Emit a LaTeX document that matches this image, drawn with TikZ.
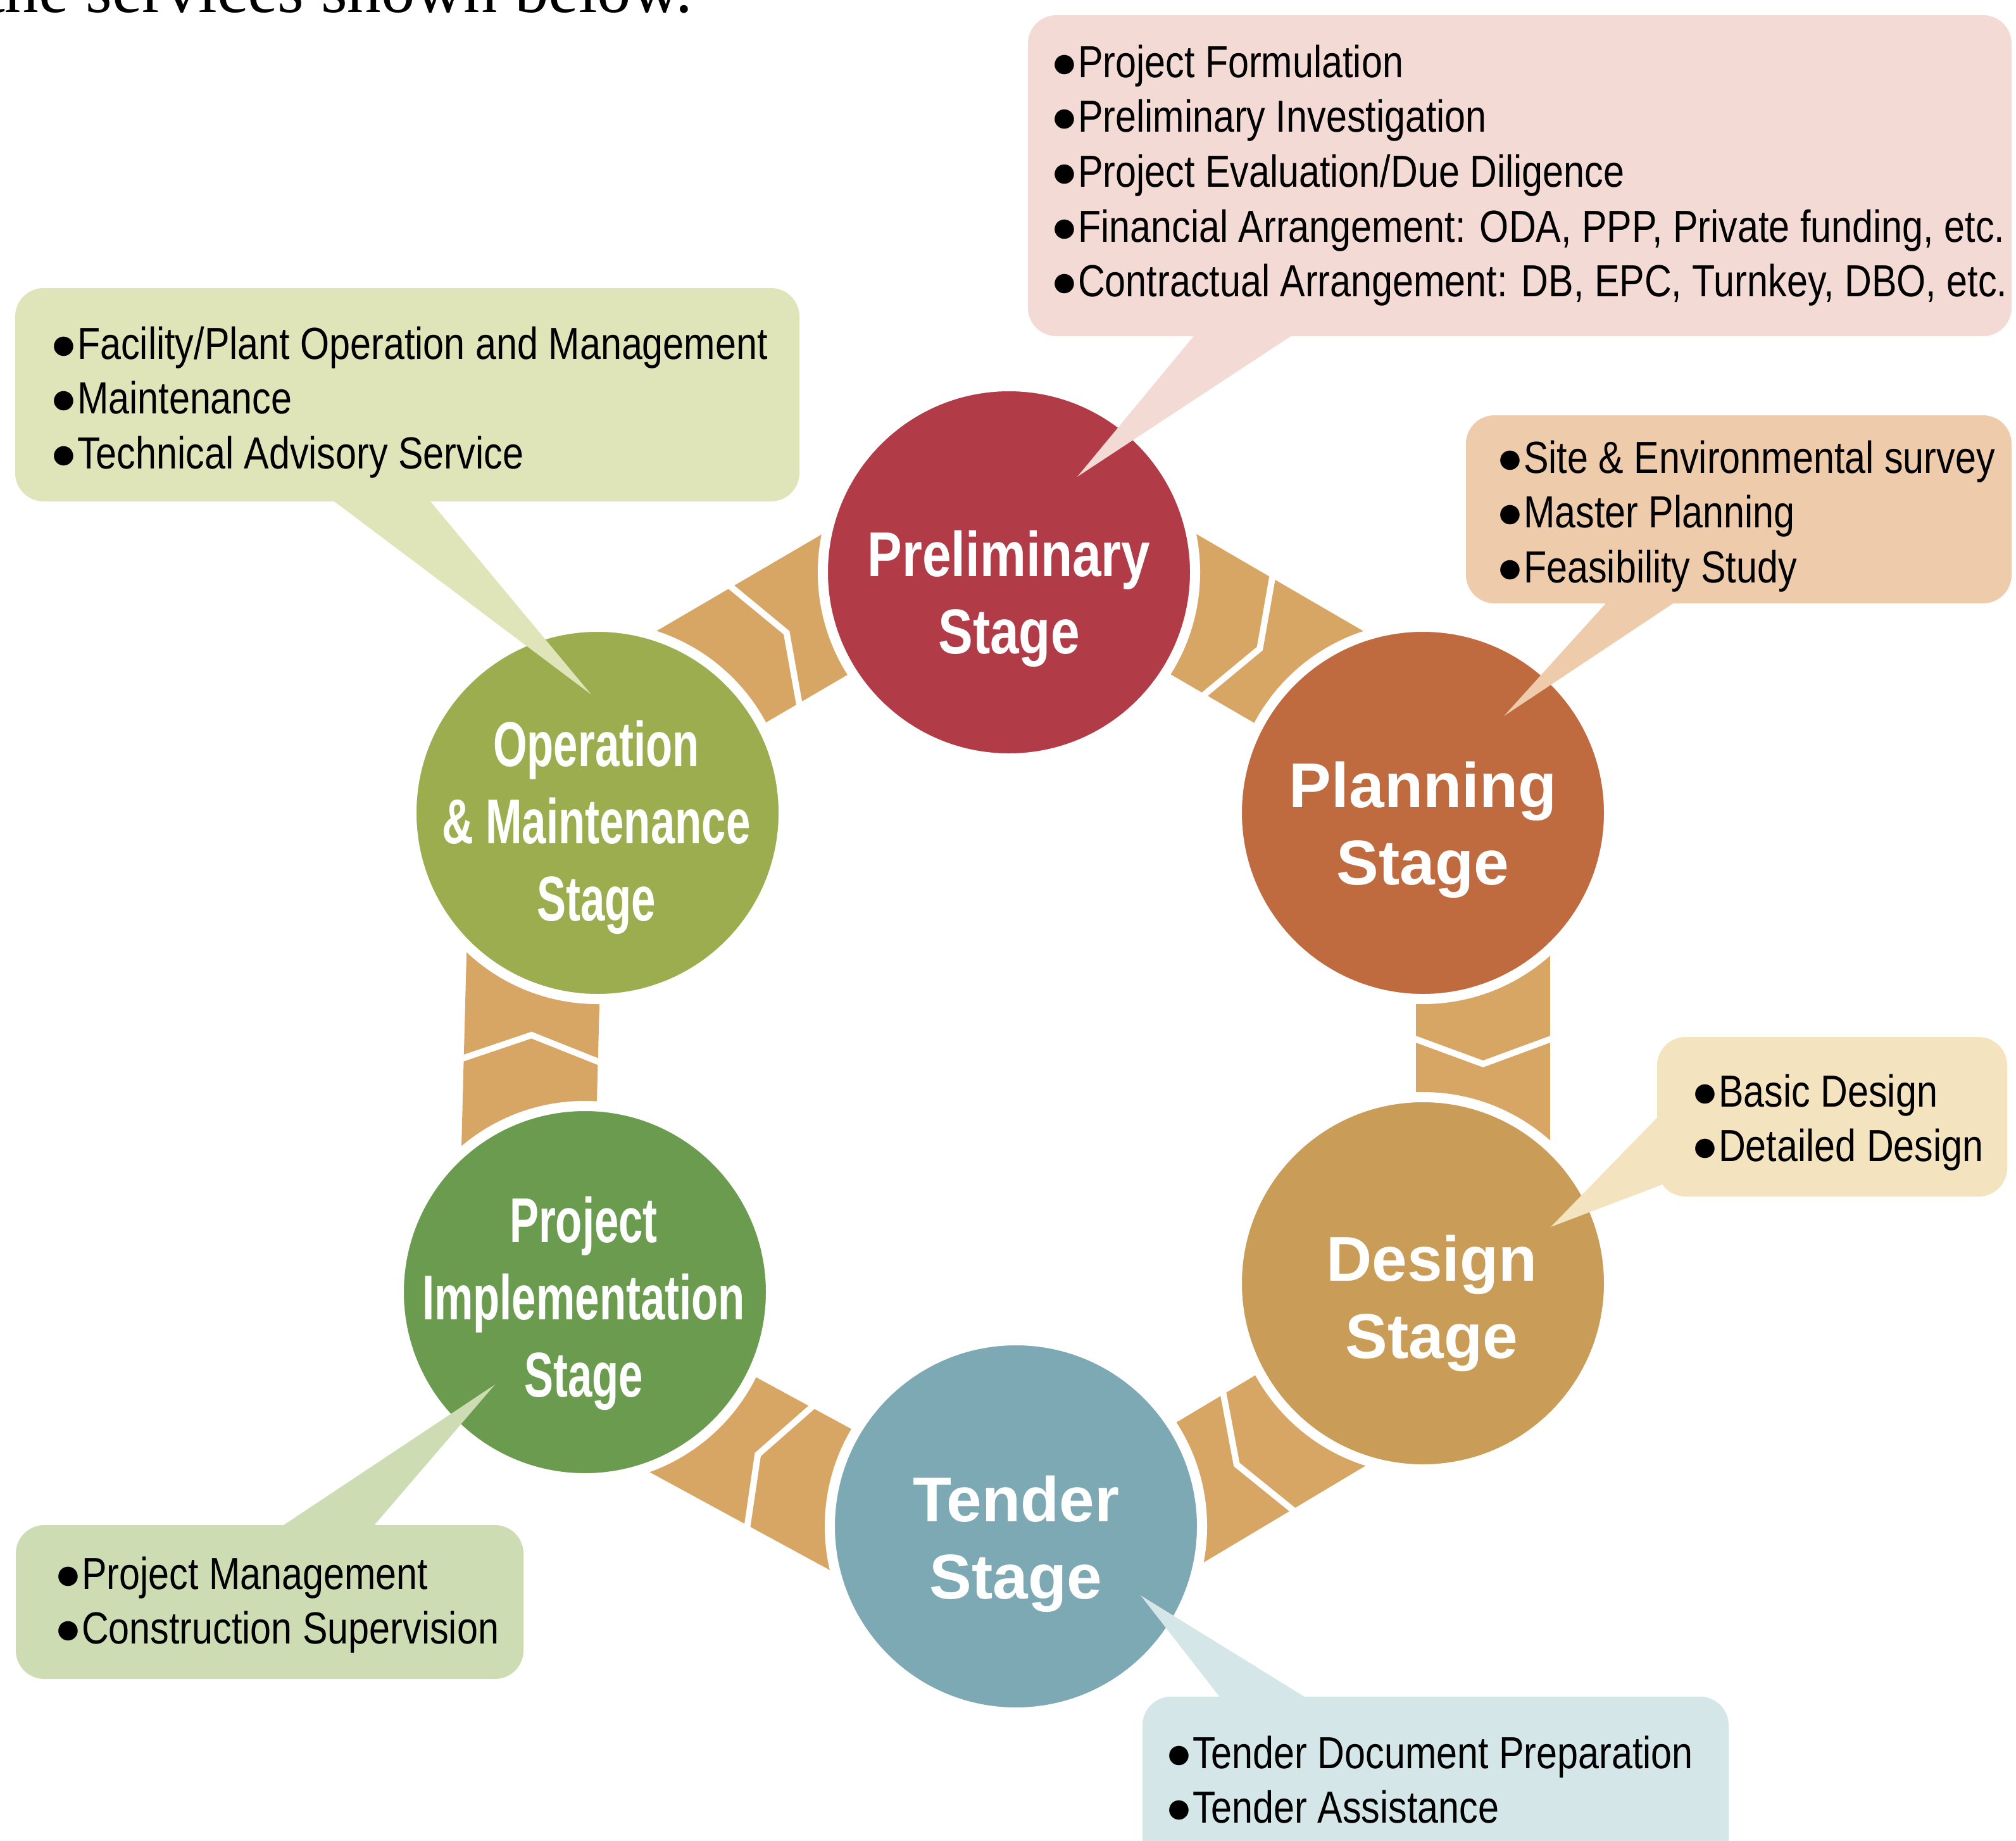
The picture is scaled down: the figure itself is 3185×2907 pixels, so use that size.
\documentclass[tikz,border=0pt]{standalone}
\usepackage{fontspec}
\usetikzlibrary{calc}
\setmainfont{Liberation Sans}
\newfontfamily\boxfont[FakeStretch=0.835]{Liberation Sans}
\newfontfamily\bulfont{Liberation Sans}
\newfontfamily\stagewide{Liberation Sans}
\newfontfamily\stagenarrow[FakeStretch=0.82]{Liberation Sans}
\newfontfamily\stagecond[FakeStretch=0.69]{Liberation Sans}
\newfontfamily\headserif{Liberation Serif}
\newcommand\bul{{\bulfont ●}}
\pgfdeclarelayer{background}
\pgfsetlayers{background,main}
\definecolor{precol}{HTML}{B23B48}
\definecolor{placol}{HTML}{BF6A3F}
\definecolor{descol}{HTML}{C99C58}
\definecolor{tencol}{HTML}{7CA9B4}
\definecolor{impcol}{HTML}{6A9B4F}
\definecolor{omcol}{HTML}{9BAD4F}
\definecolor{bandcol}{HTML}{D8A664}
\definecolor{bprecol}{HTML}{F3DAD4}
\definecolor{bomcol}{HTML}{DFE5B8}
\definecolor{bplacol}{HTML}{EECBAB}
\definecolor{bdescol}{HTML}{F3E3BF}
\definecolor{btencol}{HTML}{D5E6E8}
\definecolor{bimpcol}{HTML}{CEDCB3}
\newcommand\linkband[3]{%
  \coordinate (#3a) at ($(#1.center)!11pt!-90:(#2.center)$);
  \coordinate (#3b) at ($(#1.center)!201pt!90:(#2.center)$);
  \coordinate (#3c) at ($(#2.center)!201pt!-90:(#1.center)$);
  \coordinate (#3d) at ($(#2.center)!11pt!90:(#1.center)$);
  \fill[bandfill] (#3a) -- (#3b) -- (#3c) -- (#3d) -- cycle;
  \coordinate (#3m) at ($(#1.center)!0.5!(#2.center)$);
  \coordinate (#3p) at ($(#3m)!18pt!(#1.center)$);
  \coordinate (#3f) at ($(#3m)!25pt!(#2.center)$);
  \coordinate (#3o) at ($(#3p)!212pt!90:(#2.center)$);
  \coordinate (#3i) at ($(#3p)!22pt!-90:(#2.center)$);
  \coordinate (#3v) at ($(#3f)!95pt!90:(#2.center)$);
  \draw[chevron] (#3o) -- (#3v) -- (#3i);
}
\tikzset{
  stagecircle/.style={circle, inner sep=0pt, minimum size=588pt, draw=white, line width=16pt},
  calloutbox/.style={rectangle, rounded corners=45pt, inner sep=0pt},
  itemtext/.style={anchor=base west, inner sep=0pt, text=black, font=\boxfont\fontsize{71}{86.7}\selectfont},
  stagetext/.style={anchor=base, inner sep=0pt, text=white},
  bandfill/.style={fill=bandcol},
  chevron/.style={draw=white, line width=10pt, line join=miter},
}
\begin{document}
\begin{tikzpicture}[x=1pt, y=-1pt]
\useasboundingbox (0,0) rectangle (3185,2907);
\clip (0,0) rectangle (3185,2907);

% header (cut off at top)
\node[anchor=base west, inner sep=0pt, font=\headserif\fontsize{107}{107}\selectfont] (hdr) at (-22,19) {the services shown below.};

% stage circles
\node[stagecircle, fill=precol] (pre) at (1594,904) {};
\node[stagecircle, fill=placol] (pla) at (2248,1284) {};
\node[stagecircle, fill=descol] (des) at (2248,2027) {};
\node[stagecircle, fill=tencol] (ten) at (1605,2411) {};
\node[stagecircle, fill=impcol] (imp) at (924,2041) {};
\node[stagecircle, fill=omcol] (om) at (944,1284) {};

% connecting bands with chevrons
\begin{pgfonlayer}{background}
\fill[white] (0,0) rectangle (3185,2907);
\linkband{pre}{pla}{ba}
\linkband{pla}{des}{bb}
\linkband{des}{ten}{bc}
\linkband{ten}{imp}{bd}
\linkband{imp}{om}{be}
\linkband{om}{pre}{bf}
\end{pgfonlayer}

% stage labels
\node[stagetext, font=\stagenarrow\bfseries\fontsize{100}{122}\selectfont] (tpre) at (1594,910)
  {\begin{tabular}[t]{@{}c@{}}Preliminary\\Stage\end{tabular}};
\node[stagetext, font=\stagewide\bfseries\fontsize{100}{122}\selectfont] (tpla) at (2248,1275)
  {\begin{tabular}[t]{@{}c@{}}Planning\\Stage\end{tabular}};
\node[stagetext, font=\stagewide\bfseries\fontsize{100}{122}\selectfont] (tdes) at (2262,2023)
  {\begin{tabular}[t]{@{}c@{}}Design\\Stage\end{tabular}};
\node[stagetext, font=\stagewide\bfseries\fontsize{100}{122}\selectfont] (tten) at (1605,2403)
  {\begin{tabular}[t]{@{}c@{}}Tender\\Stage\end{tabular}};
\node[stagetext, font=\stagecond\bfseries\fontsize{100}{122}\selectfont] (timp) at (922,1962)
  {\begin{tabular}[t]{@{}c@{}}Project\\Implementation\\Stage\end{tabular}};
\node[stagetext, font=\stagecond\bfseries\fontsize{100}{122}\selectfont] (tom) at (942,1210)
  {\begin{tabular}[t]{@{}c@{}}Operation\\\& Maintenance\\Stage\end{tabular}};

% callout boxes
\node[calloutbox, fill=bprecol, minimum width=1554pt, minimum height=507pt] (bpre) at (2401,277.5) {};
\node[calloutbox, fill=bomcol, minimum width=1239pt, minimum height=337pt] (bom) at (643.5,623.5) {};
\node[calloutbox, fill=bplacol, minimum width=862pt, minimum height=297pt] (bpla) at (2747,804.5) {};
\node[calloutbox, fill=bdescol, minimum width=553pt, minimum height=252pt] (bdes) at (2894.5,1764) {};
\node[calloutbox, fill=btencol, minimum width=926pt, minimum height=280pt] (bten) at (2268,2820) {};
\node[calloutbox, fill=bimpcol, minimum width=802pt, minimum height=243pt] (bimp) at (426,2530.5) {};

% pointer tips
\coordinate (kpre) at (1702,753);
\coordinate (kom) at (934,1097);
\coordinate (kpla) at (2376,1131);
\coordinate (kdes) at (2450,1938);
\coordinate (kten) at (1802,2520);
\coordinate (kimp) at (782,2187);

% pointers
\fill[bprecol] (1895,520) -- (kpre) -- (2056,520) -- cycle;
\fill[bomcol] (512,780) -- (kom) -- (670,780) -- cycle;
\fill[bplacol] (2547,942) -- (kpla) -- (2660,942) -- cycle;
\fill[bdescol] (2630,1753) -- (kdes) -- (2650,1862) -- cycle;
\fill[btencol] (1936,2692) -- (kten) -- (2080,2692) -- cycle;
\fill[bimpcol] (430,2421) -- (kimp) -- (581,2421) -- cycle;

% callout texts
\node[itemtext] (lpre) at (1660,122) {\begin{tabular}[t]{@{}l@{}}
\bul Project Formulation\\
\bul Preliminary Investigation\\
\bul Project Evaluation/Due Diligence\\
\bul Financial Arrangement: ODA, PPP, Private funding, etc.\\
\bul Contractual Arrangement: DB, EPC, Turnkey, DBO, etc.\end{tabular}};
\node[itemtext] (lom) at (79,567) {\begin{tabular}[t]{@{}l@{}}
\bul Facility/Plant Operation and Management\\
\bul Maintenance\\
\bul Technical Advisory Service\end{tabular}};
\node[itemtext] (lpla) at (2364,747) {\begin{tabular}[t]{@{}l@{}}
\bul Site \& Environmental survey\\
\bul Master Planning\\
\bul Feasibility Study\end{tabular}};
\node[itemtext] (ldes) at (2672,1748) {\begin{tabular}[t]{@{}l@{}}
\bul Basic Design\\
\bul Detailed Design\end{tabular}};
\node[itemtext] (lten) at (1841,2793) {\begin{tabular}[t]{@{}l@{}}
\bul Tender Document Preparation\\
\bul Tender Assistance\end{tabular}};
\node[itemtext] (limp) at (86,2510) {\begin{tabular}[t]{@{}l@{}}
\bul Project Management\\
\bul Construction Supervision\end{tabular}};
\end{tikzpicture}
\end{document}
